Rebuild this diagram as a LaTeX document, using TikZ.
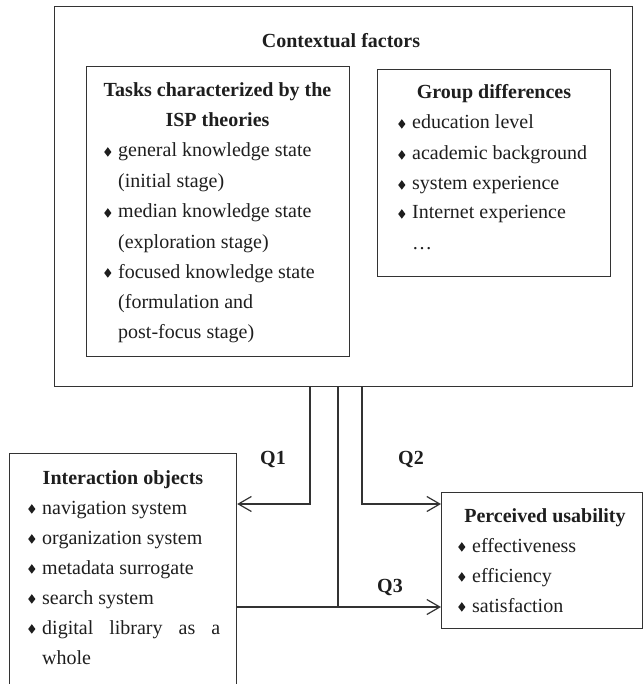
\documentclass[tikz,border=0pt]{standalone}
\usepackage{fontspec}
\setmainfont{Liberation Serif}
\usetikzlibrary{arrows.meta}
\definecolor{ink}{HTML}{1E1E1E}
\definecolor{edge}{HTML}{333333}
\newcommand{\bl}{\makebox[14pt][l]{\tikz[x=1pt,y=1pt,baseline=0pt]\fill[ink] (4,0.3) -- (7.6,5) -- (4,9.8) -- (0.4,5) -- cycle;}}
\newcommand{\ind}{\hspace*{14pt}}
\tikzset{
  box/.style={draw=edge, line width=1.2pt, rectangle, inner sep=0pt, anchor=north west},
  txt/.style={inner sep=0pt, anchor=base west, text=ink, font=\fontsize{20}{24}\selectfont},
  ttl/.style={inner sep=0pt, anchor=base, text=ink, font=\fontsize{20}{24}\selectfont\bfseries},
  line/.style={draw=edge, line width=1.2pt},
  arr/.style={line, -{Straight Barb[length=13pt,width=15pt]}}
}
\begin{document}
\begin{tikzpicture}[x=1pt, y=-1pt]
\useasboundingbox (0,0) rectangle (642,684);
% boxes
\node[box, minimum width=578pt, minimum height=380pt] (outer) at (54,6) {};
\node[box, minimum width=263pt, minimum height=290pt] (tasks) at (86,66) {};
\node[box, minimum width=233pt, minimum height=207pt] (group) at (377,69) {};
\node[box, minimum width=227pt, minimum height=231pt] (inter) at (9,453) {};
\node[box, minimum width=201pt, minimum height=136pt] (perc) at (441,492) {};
% outer title
\node[ttl] (ctx) at (341,48) {Contextual factors};
% tasks
\node[ttl] (tk0) at (217.5,97) {Tasks characterized by the};
\node[ttl] (tk00) at (217.5,127) {ISP theories};
\node[txt] (tk1) at (104,157) {\bl general knowledge state};
\node[txt] (tk2) at (104,188) {\ind(initial stage)};
\node[txt] (tk3) at (104,218) {\bl median knowledge state};
\node[txt] (tk4) at (104,248) {\ind(exploration stage)};
\node[txt] (tk5) at (104,278) {\bl focused knowledge state};
\node[txt] (tk6) at (104,308) {\ind(formulation and};
\node[txt] (tk7) at (104,338) {\ind post-focus stage)};
% group
\node[ttl] (gd0) at (494,99) {Group differences};
\node[txt] (gd1) at (398,129) {\bl education level};
\node[txt] (gd2) at (398,160) {\bl academic background};
\node[txt] (gd3) at (398,190) {\bl system experience};
\node[txt] (gd4) at (398,219) {\bl Internet experience};
\node[txt] (gd5) at (398,250) {\ind\dots};
% interaction objects
\node[ttl] (io0) at (123,484) {Interaction objects};
\node[txt] (io1) at (28,514) {\bl navigation system};
\node[txt] (io2) at (28,544) {\bl organization system};
\node[txt] (io3) at (28,574) {\bl metadata surrogate};
\node[txt] (io4) at (28,604) {\bl search system};
\node[txt] (io5) at (28,634) {\bl\makebox[178pt][s]{digital library as a}};
\node[txt] (io6) at (28,664) {\ind whole};
% perceived usability
\node[ttl] (pu0) at (545,522) {Perceived usability};
\node[txt] (pu1) at (458,552) {\bl effectiveness};
\node[txt] (pu2) at (458,582) {\bl efficiency};
\node[txt] (pu3) at (458,612) {\bl satisfaction};
% connectors
\coordinate (q3j) at (338,607);
\draw[arr] (outer.south -| 310,0) |- (inter.east |- 0,504);
\draw[arr] (outer.south -| 362,0) |- (perc.west |- 0,504);
\draw[line] (outer.south -| q3j) -- (q3j);
\draw[arr] (inter.east |- q3j) -- (perc.west |- q3j);
% labels
\node[ttl] (lq1) at (273,464) {Q1};
\node[ttl] (lq2) at (411,464) {Q2};
\node[ttl] (lq3) at (390,592) {Q3};
\end{tikzpicture}
\end{document}
